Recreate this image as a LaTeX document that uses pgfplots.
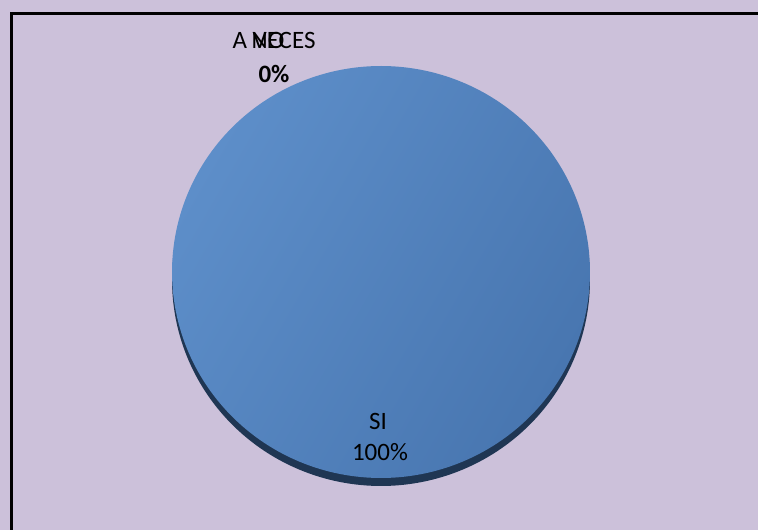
\documentclass[border=0pt]{standalone}
\usepackage{pgfplots}
\pgfplotsset{compat=1.18}
\usepackage{pgfplotstable}
\usepackage{fontspec}
\setmainfont{Carlito}
\definecolor{bgl}{HTML}{CCC1DA}
\definecolor{pieL}{HTML}{5D8EC9}
\definecolor{pieR}{HTML}{4876B0}
\definecolor{pieS}{HTML}{1F3653}
\pgfplotstableread{
label value
SI 100
NO 0
AVECES 0
}\piedata
\pgfplotstablegetelem{0}{value}\of\piedata
\let\valSI\pgfplotsretval
\begin{document}
\begin{tikzpicture}
\begin{axis}[x=1pt,y=1pt,xmin=0,xmax=758,ymin=0,ymax=530,
  scale only axis, hide axis, clip=true]
\fill[bgl] (axis cs:0,0) rectangle (axis cs:758,530);
\draw[black,line width=2.4pt] (axis cs:11.5,-20) -- (axis cs:11.5,516.5) -- (axis cs:800,516.5);
% side (3D thickness) of the pie
\addplot[draw=none,fill=pieS,domain=0:3.6*\valSI,samples=240]
  ({381+209*sin(x)},{250+206*cos(x)}) -- cycle;
% face of the SI slice
\addplot[draw=none,left color=pieL,right color=pieR,shading angle=60,domain=0:3.6*\valSI,samples=240]
  ({381+209*sin(x)},{258+206*cos(x)}) -- cycle;
\node[anchor=base,font=\fontsize{25}{28}\selectfont] at (axis cs:378,100) {SI};
\node[anchor=base,font=\fontsize{25}{28}\selectfont] at (axis cs:380,69) {100\%};
\node[anchor=base,font=\fontsize{25}{28}\selectfont] at (axis cs:274,481) {A VECES};
\node[anchor=base,font=\fontsize{25}{28}\selectfont] at (axis cs:268,481) {NO};
\node[anchor=base,font=\fontsize{25}{28}\selectfont\bfseries] at (axis cs:274,447) {0\%};
\end{axis}
\end{tikzpicture}
\end{document}
